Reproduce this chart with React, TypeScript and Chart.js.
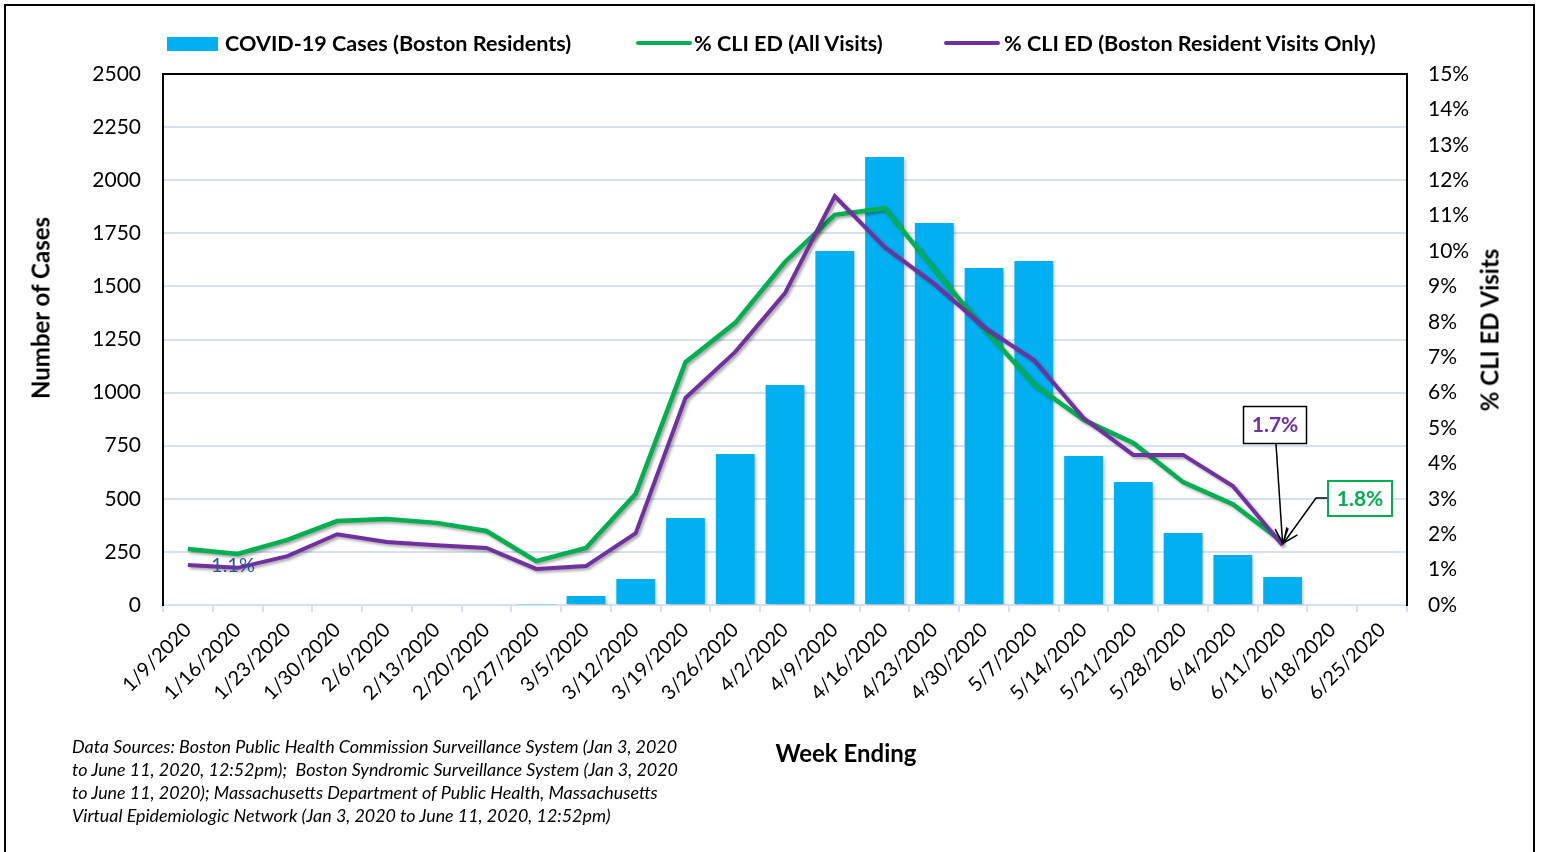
import React, { useEffect, useRef } from "react";
import { Chart, registerables } from "chart.js";

Chart.register(...registerables);

const weeks = [
  "1/9/2020", "1/16/2020", "1/23/2020", "1/30/2020", "2/6/2020", "2/13/2020", "2/20/2020",
  "2/27/2020", "3/5/2020", "3/12/2020", "3/19/2020", "3/26/2020", "4/2/2020", "4/9/2020",
  "4/16/2020", "4/23/2020", "4/30/2020", "5/7/2020", "5/14/2020", "5/21/2020", "5/28/2020",
  "6/4/2020", "6/11/2020", "6/18/2020", "6/25/2020",
];
const cases = [0, 0, 0, 0, 0, 0, 0, 3, 42, 122, 410, 711, 1036, 1667, 2109, 1798, 1587, 1620, 701, 579, 339, 235, 132, null, null];
const cliAllVisits = [1.58, 1.44, 1.84, 2.37, 2.43, 2.32, 2.09, 1.24, 1.61, 3.14, 6.86, 7.97, 9.69, 11.02, 11.21, 9.49, 7.8, 6.24, 5.23, 4.58, 3.47, 2.85, 1.78, null, null];
const cliBostonVisits = [1.13, 1.05, 1.38, 2.0, 1.78, 1.69, 1.61, 1.02, 1.1, 2.03, 5.85, 7.15, 8.81, 11.55, 10.11, 9.07, 7.85, 6.92, 5.28, 4.24, 4.24, 3.36, 1.69, null, null];
const casesAxisMax = 2500;
const casesAxisStep = 250;
const pctAxisMax = 15;
const pctAxisStep = 1;
const firstLabel = "1.1%";
const lastBostonLabel = "1.7%";
const lastAllLabel = "1.8%";

const FONT = "Lato, 'Open Sans', sans-serif";
const BLUE = "#00B0F0";
const GREEN = "#00B050";
const PURPLE = "#7030A0";
const GRID = "#D5E1F1";

function arrowHead(ctx: CanvasRenderingContext2D, fx: number, fy: number, tx: number, ty: number) {
  const ang = Math.atan2(ty - fy, tx - fx);
  const len = 16;
  const spread = 0.42;
  ctx.beginPath();
  ctx.moveTo(tx - len * Math.cos(ang - spread), ty - len * Math.sin(ang - spread));
  ctx.lineTo(tx, ty);
  ctx.lineTo(tx - len * Math.cos(ang + spread), ty - len * Math.sin(ang + spread));
  ctx.stroke();
}

const decorPlugin = {
  id: "decor",
  beforeDraw(chart: any) {
    const ctx = chart.ctx;
    ctx.save();
    ctx.fillStyle = "#fff";
    ctx.fillRect(0, 0, chart.width, chart.height);
    ctx.strokeStyle = "#000";
    ctx.lineWidth = 2;
    ctx.strokeRect(5, 5, 1529, 870);
    ctx.restore();
  },
  beforeDatasetDraw(chart: any, args: any) {
    const ctx = chart.ctx;
    ctx.save();
    const isBar = args.meta.type === "bar";
    ctx.shadowColor = isBar ? "rgba(0,0,0,0.22)" : "rgba(0,0,0,0.35)";
    ctx.shadowBlur = 3;
    ctx.shadowOffsetX = 2;
    ctx.shadowOffsetY = 2;
  },
  afterDatasetDraw(chart: any) {
    chart.ctx.restore();
  },
  afterDraw(chart: any) {
    const ctx = chart.ctx;
    const ca = chart.chartArea;
    const xs = chart.scales.x;
    const y1 = chart.scales.y1;
    ctx.save();
    ctx.strokeStyle = "#000";
    ctx.lineWidth = 2;
    ctx.beginPath();
    ctx.moveTo(ca.left - 1, ca.top);
    ctx.lineTo(ca.right + 1, ca.top);
    ctx.stroke();

    ctx.fillStyle = "#2F5597";
    ctx.font = `20px ${FONT}`;
    ctx.textAlign = "center";
    ctx.textBaseline = "middle";
    ctx.fillText(firstLabel, 233, 566);

    const last = 22;
    const px = xs.getPixelForValue(last);
    const pyB = y1.getPixelForValue(cliBostonVisits[last]);
    const pyA = y1.getPixelForValue(cliAllVisits[last]);

    ctx.fillStyle = "#fff";
    ctx.fillRect(1243, 406, 64, 37);
    ctx.strokeStyle = "#000";
    ctx.lineWidth = 1.5;
    ctx.strokeRect(1243.5, 406.5, 63, 37);
    ctx.fillStyle = PURPLE;
    ctx.font = `bold 21px ${FONT}`;
    ctx.fillText(lastBostonLabel, 1275, 425);

    ctx.strokeStyle = "#000";
    ctx.lineWidth = 1.5;
    ctx.beginPath();
    ctx.moveTo(1276, 444);
    ctx.lineTo(px, pyB - 2);
    ctx.stroke();
    arrowHead(ctx, 1276, 444, px, pyB - 2);

    ctx.fillStyle = "#fff";
    ctx.fillRect(1328, 481, 64, 35);
    ctx.strokeStyle = GREEN;
    ctx.lineWidth = 2;
    ctx.strokeRect(1328, 481, 64, 35);
    ctx.fillStyle = GREEN;
    ctx.fillText(lastAllLabel, 1360, 499);

    ctx.strokeStyle = "#000";
    ctx.lineWidth = 1.5;
    ctx.beginPath();
    ctx.moveTo(1327, 498);
    ctx.lineTo(1316, 498);
    ctx.lineTo(px + 1, pyA + 1);
    ctx.stroke();
    arrowHead(ctx, 1316, 498, px + 1, pyA + 1);
    ctx.restore();
  },
};

export default function App() {
  const canvasRef = useRef<HTMLCanvasElement | null>(null);

  useEffect(() => {
    document.body.style.margin = "0";
    document.body.style.overflow = "hidden";
    const canvas = canvasRef.current;
    if (!canvas) return;
    const chart = new Chart(canvas, {
      type: "bar",
      data: {
        labels: weeks,
        datasets: [
          {
            type: "line",
            label: "% CLI ED (Boston Resident Visits Only)",
            data: cliBostonVisits,
            yAxisID: "y1",
            borderColor: PURPLE,
            backgroundColor: PURPLE,
            borderWidth: 4,
            pointRadius: 0,
            tension: 0,
            order: 0,
          },
          {
            type: "line",
            label: "% CLI ED (All Visits)",
            data: cliAllVisits,
            yAxisID: "y1",
            borderColor: GREEN,
            backgroundColor: GREEN,
            borderWidth: 4.5,
            pointRadius: 0,
            tension: 0,
            order: 1,
          },
          {
            type: "bar",
            label: "COVID-19 Cases (Boston Residents)",
            data: cases,
            yAxisID: "y",
            backgroundColor: BLUE,
            borderWidth: 0,
            categoryPercentage: 1,
            barPercentage: 0.78,
            order: 2,
          },
        ],
      },
      options: {
        responsive: false,
        animation: false,
        events: [],
        layout: { padding: { top: 74, left: 0, right: 0, bottom: 0 } },
        plugins: {
          legend: { display: false },
          tooltip: { enabled: false },
          title: { display: false },
        },
        scales: {
          x: {
            offset: true,
            grid: {
              display: true,
              drawOnChartArea: false,
              drawTicks: true,
              tickLength: 7,
              color: GRID,
              lineWidth: 2,
              offset: true,
            },
            border: { color: GRID, width: 2 },
            ticks: {
              autoSkip: false,
              minRotation: 45,
              maxRotation: 45,
              padding: 6,
              color: "#000",
              font: { family: FONT, size: 20 },
            },
            afterFit(s: any) {
              s.height = 852 - 605;
            },
          },
          y: {
            position: "left",
            min: 0,
            max: casesAxisMax,
            ticks: {
              stepSize: casesAxisStep,
              padding: 22,
              color: "#000",
              font: { family: FONT, size: 21 },
              callback: (v: any) => String(v),
            },
            grid: { color: GRID, lineWidth: 2, drawTicks: false },
            border: { color: "#000", width: 2 },
            afterFit(s: any) {
              s.width = 163;
            },
          },
          y1: {
            position: "right",
            min: 0,
            max: pctAxisMax,
            ticks: {
              stepSize: pctAxisStep,
              padding: 21,
              color: "#000",
              font: { family: FONT, size: 21 },
              callback: (v: any) => `${v}%`,
            },
            grid: { drawOnChartArea: false, drawTicks: false },
            border: { color: "#000", width: 2 },
            afterFit(s: any) {
              s.width = 1541 - 1407;
            },
          },
        },
      },
      plugins: [decorPlugin],
    } as any);
    return () => chart.destroy();
  }, []);

  const legendText: React.CSSProperties = {
    position: "absolute",
    top: 30,
    height: 26,
    lineHeight: "26px",
    fontFamily: FONT,
    fontWeight: 700,
    fontSize: 21.6,
    color: "#000",
    whiteSpace: "nowrap",
  };
  const rotTitle = (cx: number, cy: number): React.CSSProperties => ({
    position: "absolute",
    left: cx,
    top: cy,
    transform: "translate(-50%, -50%) rotate(-90deg)",
    fontFamily: FONT,
    fontWeight: 700,
    fontSize: 24,
    whiteSpace: "nowrap",
    color: "#000",
  });

  return (
    <div style={{ position: "fixed", left: 0, top: 0, width: 1541, height: 852, background: "#fff" }}>
      <canvas ref={canvasRef} width={1541} height={852} style={{ position: "absolute", left: 0, top: 0 }} />
      <div style={{ position: "absolute", left: 167, top: 37, width: 51, height: 14, background: BLUE }} />
      <div style={{ ...legendText, left: 225 }}>COVID-19 Cases (Boston Residents)</div>
      <div style={{ position: "absolute", left: 636, top: 41, width: 56, height: 4, background: GREEN, borderRadius: 2 }} />
      <div style={{ ...legendText, left: 694 }}>% CLI ED (All Visits)</div>
      <div style={{ position: "absolute", left: 944, top: 41, width: 56, height: 4, background: PURPLE, borderRadius: 2 }} />
      <div style={{ ...legendText, left: 1004 }}>% CLI ED (Boston Resident Visits Only)</div>
      <div style={rotTitle(40, 308)}>Number of Cases</div>
      <div style={rotTitle(1489, 330)}>% CLI ED Visits</div>
      <div
        style={{
          position: "absolute",
          left: 846,
          top: 752,
          transform: "translate(-50%, -50%)",
          fontFamily: FONT,
          fontWeight: 700,
          fontSize: 24,
          whiteSpace: "nowrap",
        }}
      >
        Week Ending
      </div>
      <div
        style={{
          position: "absolute",
          left: 72,
          top: 735,
          fontFamily: FONT,
          fontStyle: "italic",
          fontSize: 17.9,
          lineHeight: "23px",
          whiteSpace: "nowrap",
          color: "#000",
        }}
      >
        Data Sources: Boston Public Health Commission Surveillance System (Jan 3, 2020
        <br />
        to June 11, 2020, 12:52pm);&nbsp; Boston Syndromic Surveillance System (Jan 3, 2020
        <br />
        to June 11, 2020); Massachusetts Department of Public Health, Massachusetts
        <br />
        Virtual Epidemiologic Network (Jan 3, 2020 to June 11, 2020, 12:52pm)
      </div>
    </div>
  );
}
